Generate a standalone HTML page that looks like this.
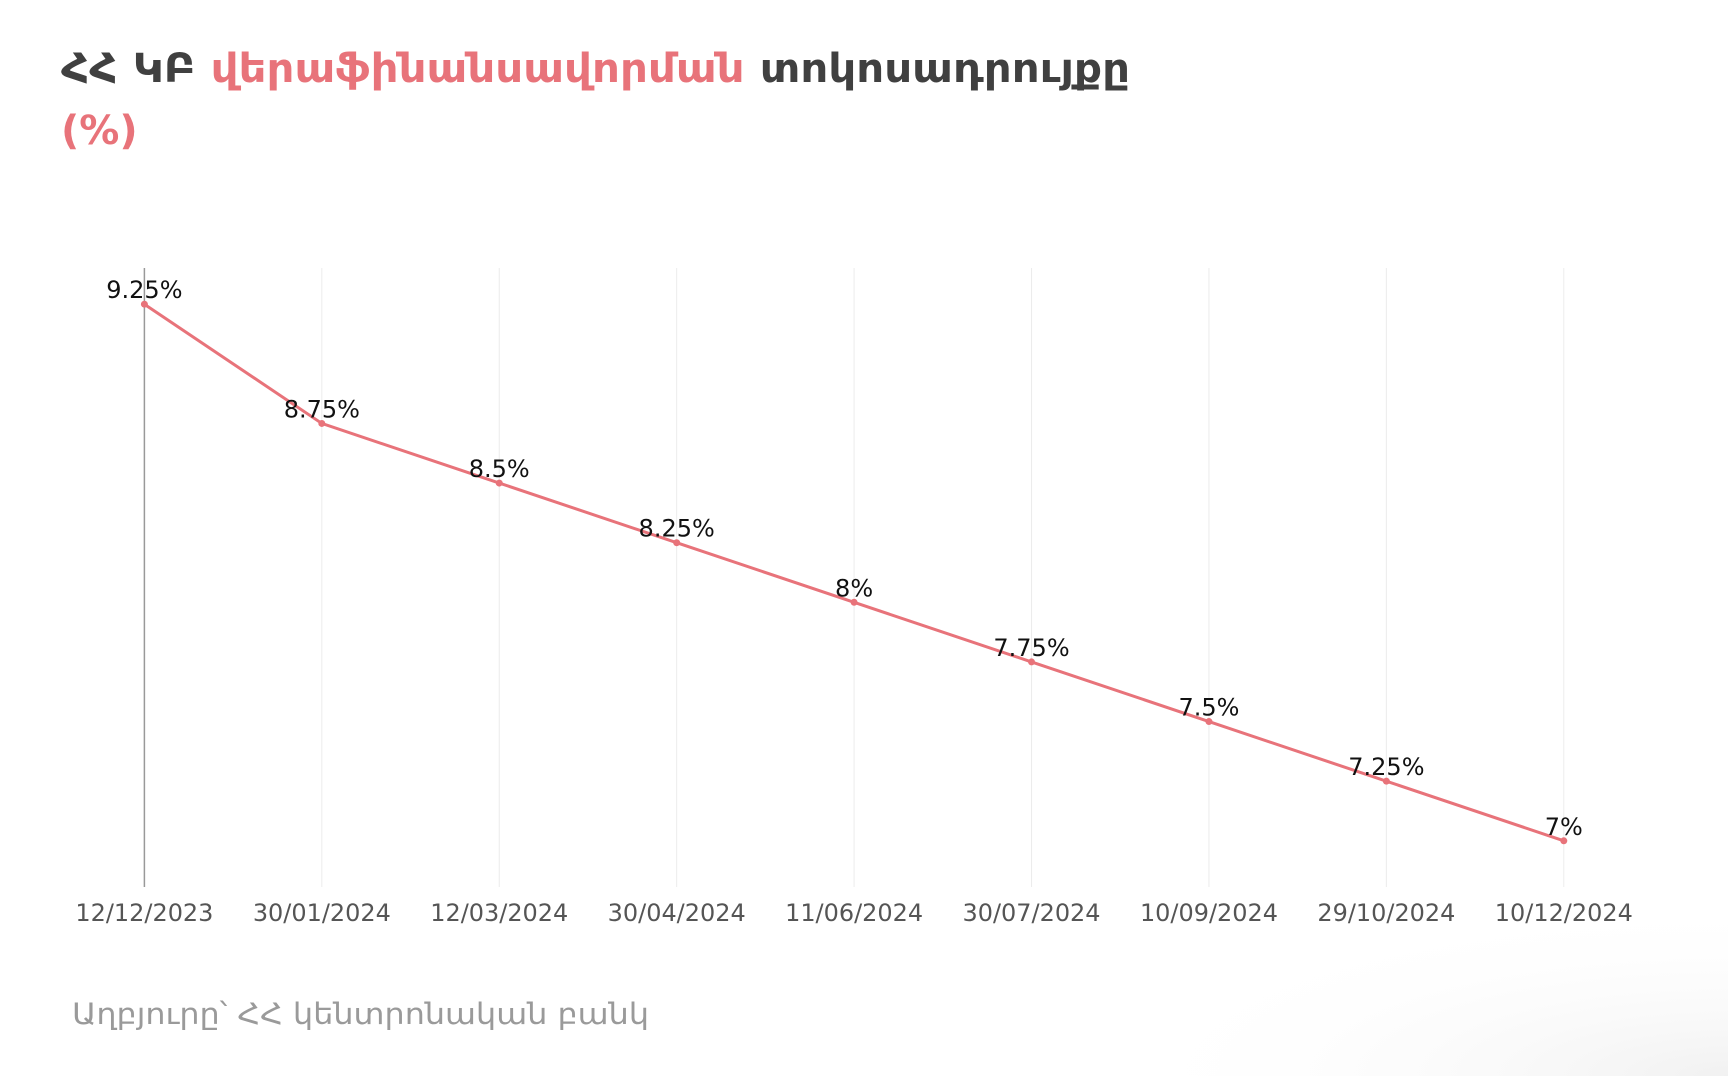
<!DOCTYPE html>
<html><head><meta charset="utf-8"><style>
html,body{margin:0;padding:0;background:#fff;}
svg{display:block;font-family:"DejaVu Sans","Liberation Sans",sans-serif;}
</style></head><body>
<svg id="chart" width="1728" height="1076" viewBox="0 0 1728 1076" xmlns="http://www.w3.org/2000/svg">
<defs><radialGradient id="sh" cx="1" cy="1" r="1"><stop offset="0" stop-color="#e8e8e8"/><stop offset="1" stop-color="#fff" stop-opacity="0"/></radialGradient></defs>
<rect x="1100" y="900" width="628" height="176" fill="url(#sh)" opacity="0.6"/>
<text x="61" y="82" font-size="40" font-weight="bold" fill="#404040" textLength="1069" lengthAdjust="spacingAndGlyphs">ՀՀ ԿԲ <tspan fill="#e8737a">վերաֆինանսավորման</tspan> տոկոսադրույքը</text>
<text x="61" y="144" font-size="40" font-weight="bold" fill="#e8737a">(%)</text>
<text x="72" y="1024" font-size="29" fill="#9a9a9a" textLength="577" lengthAdjust="spacingAndGlyphs">Աղբյուրը՝ ՀՀ կենտրոնական բանկ</text>
<g id="grid"></g><g id="line"></g><g id="labels"></g>
</svg>
<script>
const categories=["12/12/2023","30/01/2024","12/03/2024","30/04/2024","11/06/2024","30/07/2024","10/09/2024","29/10/2024","10/12/2024"];
const values=[9.25,8.75,8.5,8.25,8,7.75,7.5,7.25,7];
const valueLabels=["9.25%","8.75%","8.5%","8.25%","8%","7.75%","7.5%","7.25%","7%"];
const NS="http://www.w3.org/2000/svg";
const x0=144.4,x1=1563.8,yTop=268,yBot=887;
function xs(i){return x0+(x1-x0)*i/(categories.length-1);}
function ys(v){return 304.2+(9.25-v)*(840.8-304.2)/2.25;}
function mk(t,a,p){const e=document.createElementNS(NS,t);for(const k in a)e.setAttribute(k,a[k]);p.appendChild(e);return e;}
const g=document.getElementById('grid'),l=document.getElementById('line'),lb=document.getElementById('labels');
categories.forEach((c,i)=>{
 const gl=mk('line',{x1:xs(i),x2:xs(i),y1:yTop,y2:yBot,stroke:i===0?'#999':'#ececec','stroke-width':i===0?1.5:1},g);
 
 
 const t=mk('text',{x:xs(i),y:921,'font-size':24,fill:'#555','text-anchor':'middle',textLength:138,lengthAdjust:'spacingAndGlyphs'},lb);
 t.textContent=c;
 
 
});
const p=mk('polyline',{points:values.map((v,i)=>xs(i)+','+ys(v)).join(' '),fill:'none',stroke:'#e8737a','stroke-width':3},l);


values.forEach((v,i)=>{
 const c=mk('circle',{cx:xs(i),cy:ys(v),r:3.5,fill:'#e8737a'},l);
 
 
 const t=mk('text',{x:xs(i),y:ys(v)-6,'font-size':24,fill:'#111','text-anchor':'middle'},lb);
 t.textContent=valueLabels[i];
 
 
});
</script>
</body></html>
